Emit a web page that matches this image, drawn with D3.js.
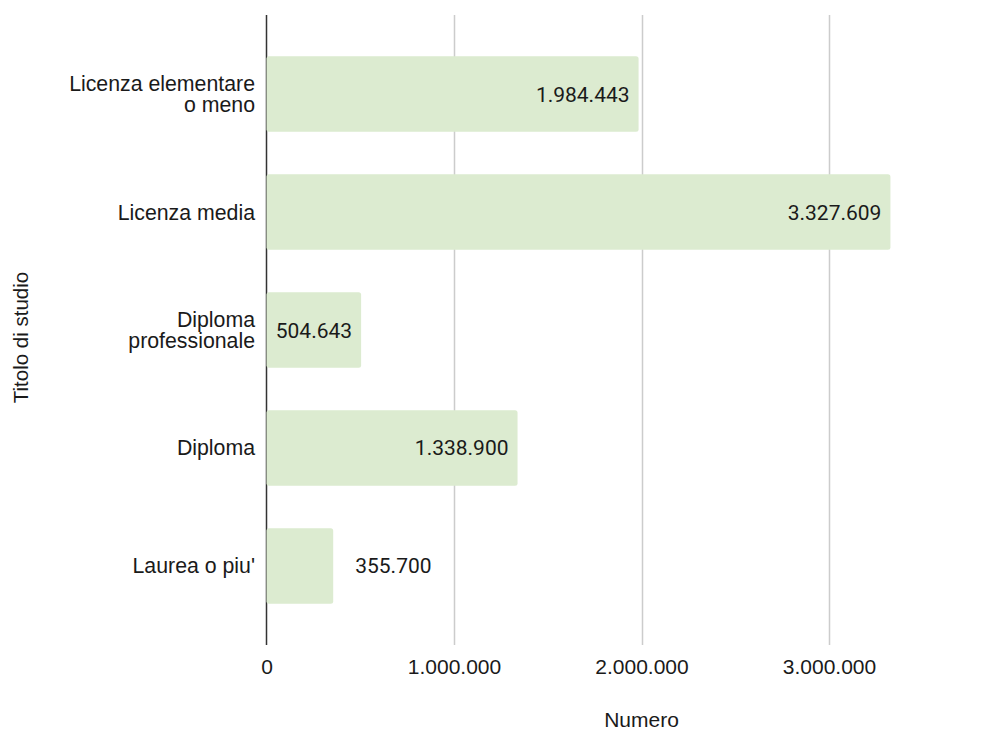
<!DOCTYPE html>
<html>
<head>
<meta charset="utf-8">
<script src="https://cdn.jsdelivr.net/npm/d3@7"></script>
<style>
  html, body { margin: 0; padding: 0; background: #fff; }
  svg { display: block; }
</style>
</head>
<body>
<svg id="chart" width="1005" height="729"></svg>
<script>
// Titolo di studio — numero di persone
const categories = [
  ["Licenza elementare", "o meno"],
  ["Licenza media"],
  ["Diploma", "professionale"],
  ["Diploma"],
  ["Laurea o piu'"]
];
const values = [1984443, 3327609, 504643, 1338900, 355700];
const xTicks = [0, 1000000, 2000000, 3000000];
const xTitle = "Numero";
const yTitle = "Titolo di studio";

(function () {
  const it = d3.formatLocale({ decimal: ",", thousands: ".", grouping: [3], currency: ["€", ""] });
  const fmt = it.format(",d");

  const svg = d3.select("#chart");
  const labelFont = "'Liberation Sans', Arial, Helvetica, sans-serif";
  const valueFont = "Roboto, 'Liberation Sans', Arial, sans-serif";
  const fontSize = 21;

  const plotTop = 15, plotBottom = 645, plotLeft = 266.5;
  const keys = categories.map((c, i) => i);

  const x = d3.scaleLinear().domain([0, 4000000]).range([plotLeft, 1016.5]);
  const y = d3.scaleBand().domain(keys).range([plotTop, plotBottom])
    .paddingInner(0.36).paddingOuter(0.35);

  // gridlines
  svg.append("g").selectAll("line").data(xTicks.filter(d => d > 0)).join("line")
    .attr("x1", d => Math.round(x(d)) + 0.5).attr("x2", d => Math.round(x(d)) + 0.5)
    .attr("y1", plotTop).attr("y2", plotBottom)
    .attr("stroke", "#cccccc").attr("stroke-width", 1.5);

  // baseline at zero
  svg.append("line")
    .attr("x1", x(0)).attr("x2", x(0)).attr("y1", plotTop).attr("y2", plotBottom)
    .attr("stroke", "#333").attr("stroke-width", 1.5);

  // x tick labels
  const xAxis = d3.axisBottom(x).tickValues(xTicks).tickFormat(d => fmt(d)).tickSize(0).tickPadding(0);
  const gx = svg.append("g").attr("transform", `translate(0,${plotBottom})`).call(xAxis);
  gx.select(".domain").remove();
  gx.selectAll("text")
    .attr("y", 29).attr("dy", null)
    .attr("font-family", labelFont).attr("font-size", fontSize).attr("fill", "#1a1a1a");

  // bars
  svg.append("g").selectAll("rect").data(values).join("rect")
    .attr("x", x(0))
    .attr("y", (d, i) => y(i))
    .attr("width", d => x(d) - x(0))
    .attr("height", y.bandwidth())
    .attr("rx", 2.5).attr("ry", 2.5)
    .attr("fill", "#dcebd0");

  // category labels
  const gy = svg.append("g");
  categories.forEach((lines, i) => {
    const cy = y(i) + y.bandwidth() / 2;
    const lh = 20.5;
    const t = gy.append("text")
      .attr("text-anchor", "end")
      .attr("font-family", labelFont).attr("font-size", 21.3).attr("fill", "#1a1a1a");
    lines.forEach((ln, j) => {
      t.append("tspan").attr("x", 255)
        .attr("y", cy + 7.5 + (j - (lines.length - 1) / 2) * lh)
        .text(ln);
    });
  });

  // value labels
  const gv = svg.append("g");
  values.forEach((v, i) => {
    const cy = y(i) + y.bandwidth() / 2;
    const t = gv.append("text")
      .attr("font-family", valueFont).attr("font-size", fontSize).attr("fill", "#1a1a1a")
      .attr("y", cy + 7.5)
      .text(fmt(v));
    const w = t.node().getComputedTextLength();
    const barW = x(v) - x(0);
    if (w + 17 <= barW) {
      t.attr("text-anchor", "end").attr("x", x(v) - 9);
    } else {
      t.attr("text-anchor", "start").attr("x", x(v) + 22);
    }
  });

  // axis titles
  svg.append("text")
    .attr("x", (x.range()[0] + x.range()[1]) / 2).attr("y", 726.5)
    .attr("text-anchor", "middle")
    .attr("font-family", labelFont).attr("font-size", fontSize).attr("fill", "#1a1a1a")
    .text(xTitle);

  svg.append("text")
    .attr("transform", "translate(27.5,337.5) rotate(-90)")
    .attr("text-anchor", "middle")
    .attr("font-family", labelFont).attr("font-size", 20.5).attr("fill", "#1a1a1a")
    .text(yTitle);
})();
</script>
</body>
</html>
